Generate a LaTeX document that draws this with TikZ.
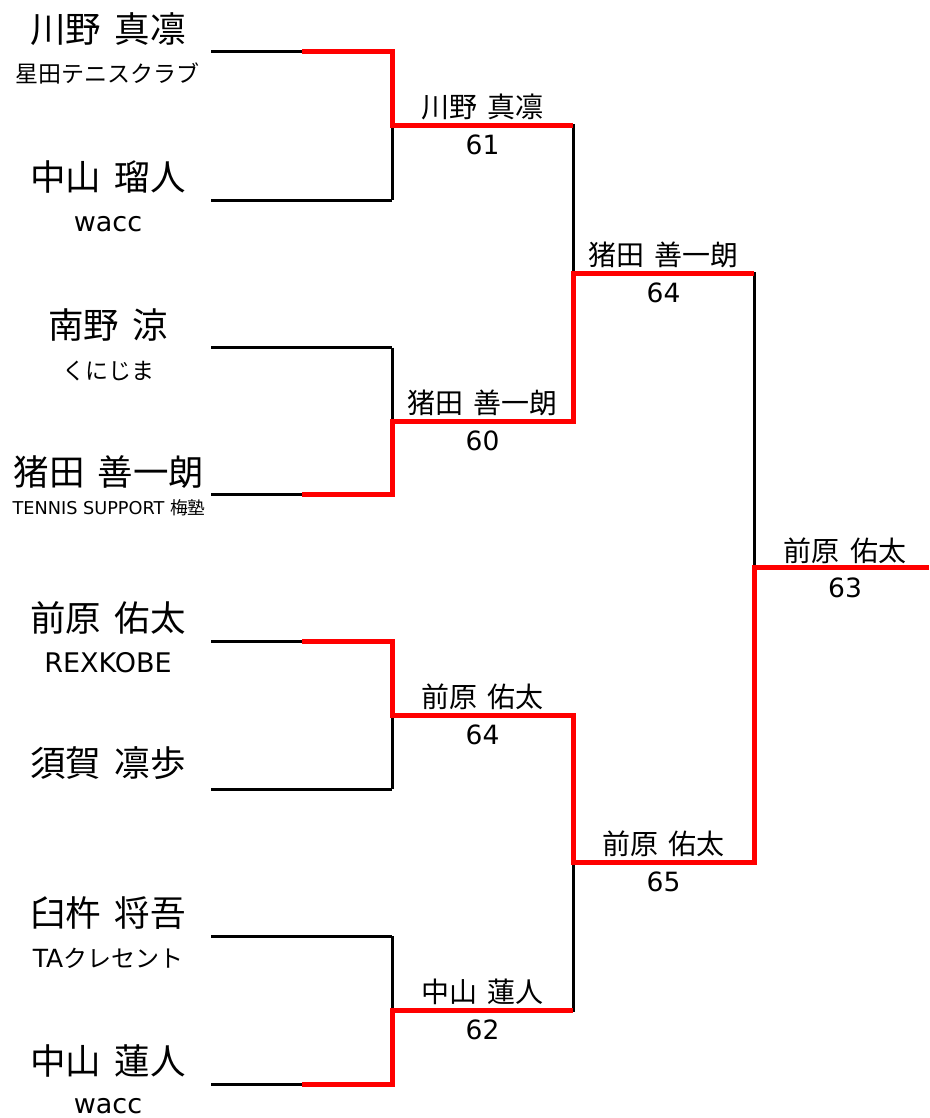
\documentclass[tikz,border=0pt]{standalone}
\usepackage{fontspec}
\setmainfont{DejaVu Sans}
\newfontfamily\jp{Noto Sans CJK JP}
\newcommand\jgap{\hspace{0.38em}}
\begin{document}
\begin{tikzpicture}[x=1pt,y=-1pt,
  bline/.style={draw=black, line width=3pt},
  rline/.style={draw=red, line width=5pt, line join=miter},
  big/.style={anchor=base, inner sep=0pt, font=\jp\fontsize{35.5}{40}\selectfont},
  subl/.style={anchor=base, inner sep=0pt, font=\fontsize{27}{30}\selectfont},
  subjp/.style={anchor=base, inner sep=0pt, font=\jp\fontsize{23}{28}\selectfont},
  subsm/.style={anchor=base, inner sep=0pt, font=\fontsize{17.7}{20}\selectfont},
  wname/.style={anchor=base, inner sep=0pt, font=\jp\fontsize{28}{32}\selectfont},
  score/.style={anchor=base, inner sep=0pt, font=\fontsize{26.5}{30}\selectfont}]
\useasboundingbox (0,0) rectangle (929,1118);

% bracket coordinates
\foreach \i/\y in {1/52,2/200,3/347.5,4/494,5/641,6/789,7/936,8/1084}{
  \coordinate (l\i) at (211,\y);
  \coordinate (m\i) at (302,\y);
  \coordinate (a\i) at (392,\y);
}
\foreach \i/\y in {1/126,2/421,3/715,4/1010}{
  \coordinate (ra\i) at (392,\y);
  \coordinate (rb\i) at (573,\y);
}
\foreach \i/\y in {1/273,2/862}{
  \coordinate (sa\i) at (573,\y);
  \coordinate (sb\i) at (754,\y);
}
\coordinate (fa) at (754,567.5);
\coordinate (fb) at (929,567.5);

% black lines
\foreach \i in {1,...,8}{ \draw[bline] (l\i) -- (a\i); }
\draw[bline] (a1) -- (a2);
\draw[bline] (a3) -- (a4);
\draw[bline] (a5) -- (a6);
\draw[bline] (a7) -- (a8);
\draw[bline] (ra1) -- (rb1) -- (rb2) -- (ra2);
\draw[bline] (ra3) -- (rb3) -- (rb4) -- (ra4);
\draw[bline] (sa1) -- (sb1) -- (sb2) -- (sa2);
\draw[bline] (fa) -- (fb);

% red winning paths
\draw[rline] (m1) -- (a1) -- (ra1) -- (rb1);
\draw[rline] (m4) -- (a4) -- (ra2) -- (rb2) -- (sa1) -- (sb1);
\draw[rline] (m5) -- (a5) -- (ra3) -- (rb3) -- (sa2) -- (sb2) -- (fa) -- (fb);
\draw[rline] (m8) -- (a8) -- (ra4) -- (rb4);

% players
\node[big] (p1) at (108,42.3) {川野\jgap 真凛};
\node[subjp] (c1) at (107,83) {星田テニスクラブ};
\node[big] (p2) at (108,190.8) {中山\jgap 瑠人};
\node[subl] (c2) at (108,231.5) {wacc};
\node[big] (p3) at (108,338.3) {南野\jgap 涼};
\node[subjp] (c3) at (108,379) {くにじま};
\node[big] (p4) at (109,485.3) {猪田\jgap 善一朗};
\node[subsm] (c4) at (109,514) {TENNIS SUPPORT {\jp 梅塾}};
\node[big] (p5) at (108,631.3) {前原\jgap 佑太};
\node[subl] (c5) at (108,672.5) {REXKOBE};
\node[big] (p6) at (108,776.3) {須賀\jgap 凛歩};
\node[big] (p7) at (108,926.3) {臼杵\jgap 将吾};
\node[subjp] (c7) at (108,967) {\fontsize{25}{28}\selectfont\rmfamily TA\jp\fontsize{24}{28}\selectfont クレセント};
\node[big] (p8) at (108,1074.3) {中山\jgap 蓮人};
\node[subl, text depth=0pt] (c8) at (108,1113) {wacc};

% round 1 winners
\node[wname] (w1) at (482.5,118) {川野\jgap 真凛};
\node[score] (s1) at (482.5,155) {61};
\node[wname] (w2) at (482.5,413) {猪田\jgap 善一朗};
\node[score] (s2) at (482.5,450) {60};
\node[wname] (w3) at (482.5,707) {前原\jgap 佑太};
\node[score] (s3) at (482.5,744) {64};
\node[wname] (w4) at (482.5,1002) {中山\jgap 蓮人};
\node[score] (s4) at (482.5,1039) {62};

% round 2 winners
\node[wname] (v1) at (663.5,265) {猪田\jgap 善一朗};
\node[score] (t1) at (663.5,302) {64};
\node[wname] (v2) at (663.5,854) {前原\jgap 佑太};
\node[score] (t2) at (663.5,891) {65};

% final
\node[wname] (f1) at (845,561) {前原\jgap 佑太};
\node[score] (f2) at (845,597.5) {63};
\end{tikzpicture}
\end{document}
